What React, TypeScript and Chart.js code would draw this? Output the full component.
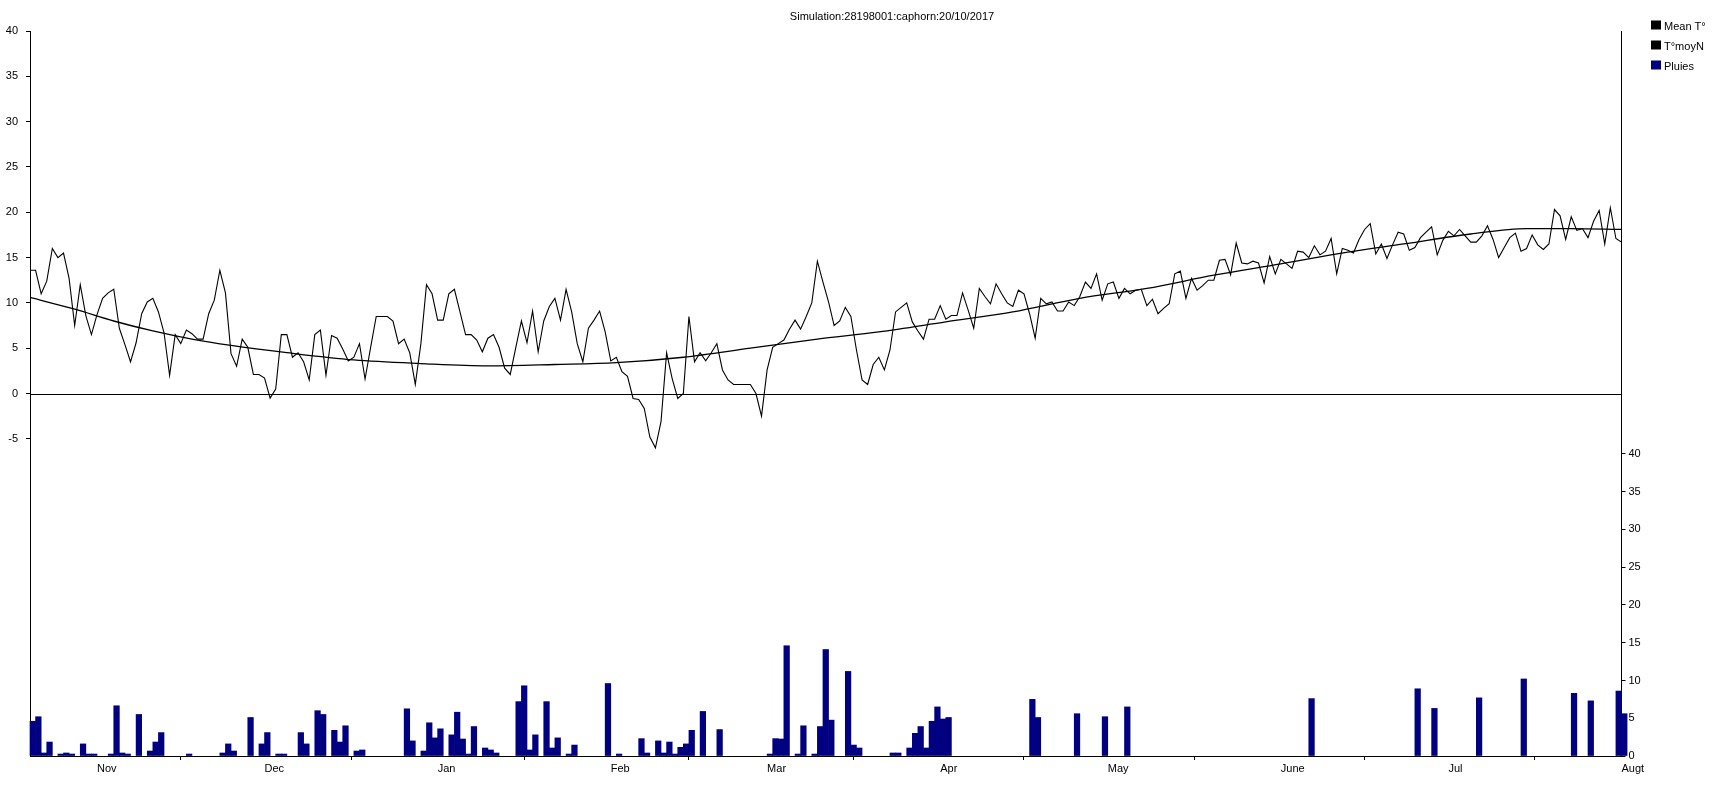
import React, { useEffect, useRef } from 'react';
import { Chart, registerables } from 'chart.js';

Chart.register(...registerables);

// ---------- data ----------
const TITLE = 'Simulation:28198001:caphorn:20/10/2017';

// day index 0 = 20 Oct; month ticks placed at the first day of each month
const monthTickDays = [12, 42, 73, 104, 132, 163, 193, 224, 254, 285];
const monthLabels = ['Nov', 'Dec', 'Jan', 'Feb', 'Mar', 'Apr', 'May', 'June', 'Jul', 'Augt'];

// daily mean temperature (°C), one value per day from day 0 to day 285
const meanTemp = [
  13.6, 13.6, 11, 12.4, 16, 15, 15.5, 12.7, 7.5, 12,
  8.6, 6.5, 8.7, 10.5, 11.1, 11.5, 7.2, 5.4, 3.5, 5.6,
  8.8, 10.1, 10.5, 9, 6.7, 2, 6.5, 5.5, 7, 6.6,
  6, 6, 8.8, 10.3, 13.6, 11.1, 4.4, 3, 6, 5.1,
  2.1, 2.1, 1.7, -0.5, 0.5, 6.5, 6.5, 4, 4.5, 3.5,
  1.5, 6.5, 7, 2, 6.4, 6.1, 4.9, 3.6, 4, 5.5,
  1.6, 5.1, 8.5, 8.5, 8.5, 8, 5.5, 6, 4.5, 1,
  5.5, 12, 11, 8.1, 8.1, 11, 11.5, 9, 6.5, 6.5,
  5.9, 4.6, 6.1, 6.5, 5.1, 2.8, 2.1, 5.1, 8, 5.6,
  9.1, 4.6, 8, 9.6, 10.5, 8.1, 11.5, 9, 5.5, 3.5,
  7.2, 8.1, 9.1, 6.8, 3.6, 4.0, 2.4, 1.9, -0.55, -0.66,
  -1.65, -4.8, -6, -3.1, 4.5, 1.65, -0.55, 0, 8.5, 3.5,
  4.5, 3.6, 4.5, 5.5, 2.6, 1.5, 1, 1, 1, 1,
  0, -2.5, 2.6, 5.1, 5.5, 5.9, 7.1, 8.1, 7.1, 8.5,
  10, 14.6, 12.3, 10.1, 7.5, 8, 9.5, 8.5, 4.8, 1.5,
  1, 3.2, 4, 2.6, 4.8, 9, 9.5, 10, 7.9, 6.9,
  6, 8.2, 8.2, 9.7, 8.2, 8.6, 8.6, 11.1, 9.2, 7.2,
  11.6, 10.7, 9.9, 12.1, 11, 10, 9.6, 11.4, 11, 8.8,
  6.1, 10.5, 9.9, 10.1, 9.1, 9.1, 10.1, 9.7, 10.7, 12.3,
  11.6, 13.2, 10.3, 12.1, 12.3, 10.5, 11.6, 11, 11.4, 11.5,
  9.7, 10.4, 8.8, 9.4, 9.9, 13.2, 13.5, 10.5, 12.7, 11.4,
  11.9, 12.5, 12.5, 14.7, 14.8, 13.1, 16.6, 14.4, 14.3, 14.6,
  14.4, 12.2, 15.1, 13.2, 14.8, 14.3, 13.8, 15.7, 15.6, 15,
  16.3, 15.3, 15.7, 17.1, 13.2, 16, 15.8, 15.5, 17, 18.1,
  18.75, 15.4, 16.5, 14.9, 16.4, 17.8, 17.6, 15.8, 16.1, 17.2,
  17.8, 18.4, 15.3, 16.9, 17.9, 17.4, 18.1, 17.4, 16.7, 16.7,
  17.4, 18.5, 17, 15, 16.1, 17.2, 17.7, 15.7, 16, 17.5,
  16.4, 15.9, 16.5, 20.3, 19.6, 17, 19.5, 18, 18.2, 17.2,
  19, 20.2, 16.5, 20.5, 17.1, 16.7,
];

// normal temperature curve (T°moyN), read at these days
const normalDays = [0, 8, 15, 22, 29, 36, 46, 58, 70, 82, 94, 105, 117, 129, 141, 152, 164, 176, 188, 200, 212, 224, 236, 246, 258, 268, 276, 285];
const normalTemp = [10.6, 9.3, 8.0, 6.9, 6.0, 5.3, 4.5, 3.7, 3.3, 3.05, 3.2, 3.4, 4.0, 5.0, 6.0, 6.8, 7.9, 9.0, 10.5, 11.6, 13.05, 14.3, 15.6, 16.5, 17.6, 18.2, 18.2, 18.1];

// rain (mm) on the days it rained
const rainDays = [
  0, 1, 2, 3, 5, 6, 7, 9, 10, 11,
  14, 15, 16, 17, 19, 21, 22, 23, 28, 34,
  35, 36, 39, 41, 42, 44, 45, 48, 49, 51,
  52, 54, 55, 56, 58, 59, 67, 68, 70, 71,
  72, 73, 75, 76, 77, 78, 79, 81, 82, 83,
  87, 88, 89, 90, 92, 93, 94, 96, 97, 103,
  105, 109, 110, 112, 113, 114, 115, 116, 117, 118,
  120, 123, 132, 133, 134, 135, 137, 138, 140, 141,
  142, 143, 146, 147, 148, 154, 155, 157, 158, 159,
  160, 161, 162, 163, 164, 179, 180, 187, 192, 196,
  229, 248, 251, 259, 267, 276, 279, 284, 285,
];
const rainMm = [
  4.6, 5.2, 0.4, 1.85, 0.26, 0.4, 0.26, 1.6, 0.26, 0.26,
  0.26, 6.65, 0.4, 0.26, 5.5, 0.66, 1.85, 3.1, 0.26, 0.4,
  1.6, 0.66, 5.1, 1.6, 3.1, 0.26, 0.26, 3.1, 1.6, 6.0,
  5.5, 3.4, 1.85, 4.0, 0.66, 0.8, 6.25, 2.0, 0.66, 4.4,
  2.4, 3.6, 2.8, 5.8, 2.25, 0.26, 3.9, 1.06, 0.8, 0.4,
  7.2, 9.3, 0.8, 2.8, 7.2, 1.06, 2.4, 0.26, 1.45, 9.6,
  0.26, 2.3, 0.4, 2.0, 0.4, 1.85, 0.26, 1.15, 1.6, 3.4,
  5.9, 3.5, 0.26, 2.3, 2.25, 14.6, 0.26, 4.0, 0.26, 3.9,
  14.1, 4.75, 11.2, 1.45, 1.06, 0.4, 0.4, 1.06, 3.0, 3.9,
  1.06, 4.6, 6.5, 4.9, 5.1, 7.5, 5.1, 5.6, 5.2, 6.5,
  7.6, 8.9, 6.3, 7.7, 10.2, 8.3, 7.3, 8.6, 5.6,
];

const legendLabels = ['Mean T°', 'T°moyN', 'Pluies'];
const legendColors = ['#000000', '#000000', '#000080'];

const FONT = "'Liberation Sans', Arial, sans-serif";

const overlayPlugin = {
  id: 'overlay',
  beforeDatasetsDraw(chart: any) {
    const { ctx, chartArea, scales } = chart;
    const y = Math.round(scales.y.getPixelForValue(0)) + 0.5;
    ctx.save();
    ctx.strokeStyle = '#000';
    ctx.lineWidth = 1.2;
    ctx.beginPath();
    ctx.moveTo(chartArea.left, y);
    ctx.lineTo(chartArea.right, y);
    ctx.stroke();
    ctx.restore();
  },
  afterDraw(chart: any) {
    const { ctx } = chart;
    ctx.save();
    ctx.fillStyle = '#000';
    ctx.font = `11px ${FONT}`;
    ctx.textAlign = 'center';
    ctx.textBaseline = 'middle';
    ctx.fillText(TITLE, 892, 17);
    ctx.textAlign = 'left';
    legendLabels.forEach((lab, i) => {
      const top = 20.5 + i * 20;
      ctx.fillStyle = legendColors[i];
      ctx.fillRect(1651, top, 10, 9);
      ctx.fillStyle = '#000';
      ctx.fillText(lab, 1664, top + 6);
    });
    ctx.restore();
  },
};

export default function App() {
  const ref = useRef<HTMLCanvasElement>(null);

  useEffect(() => {
    const canvas = ref.current;
    if (!canvas) return;
    Chart.defaults.font.family = FONT;
    Chart.defaults.font.size = 11;
    Chart.defaults.color = '#000';

    const chart = new Chart(canvas, {
      type: 'bar',
      data: {
        datasets: [
          {
            type: 'line',
            label: 'Mean T°',
            data: meanTemp.map((v, i) => ({ x: i, y: v })),
            borderColor: '#000',
            borderWidth: 1.1,
            pointRadius: 0,
            tension: 0,
            yAxisID: 'y',
            order: 1,
          } as any,
          {
            type: 'line',
            label: 'T°moyN',
            data: normalDays.map((d, i) => ({ x: d, y: normalTemp[i] })),
            borderColor: '#000',
            borderWidth: 1.3,
            pointRadius: 0,
            cubicInterpolationMode: 'monotone',
            yAxisID: 'y',
            order: 2,
          } as any,
          {
            type: 'bar',
            label: 'Pluies',
            data: rainDays.map((d, i) => ({ x: d + 0.5, y: rainMm[i] })),
            backgroundColor: '#000080',
            borderWidth: 0,
            barPercentage: 1,
            categoryPercentage: 1,
            yAxisID: 'y1',
            clip: false,
            order: 3,
          } as any,
        ],
      },
      options: {
        responsive: false,
        animation: false,
        devicePixelRatio: 1,
        events: [],
        layout: { padding: { top: 31, left: 0, right: 0, bottom: 0 } },
        plugins: {
          legend: { display: false },
          title: { display: false },
          tooltip: { enabled: false },
        },
        scales: {
          x: {
            type: 'linear',
            min: 0,
            max: 285,
            offset: false,
            grid: { display: true, drawOnChartArea: false, drawTicks: true, tickLength: 4, tickColor: '#000', color: '#000' },
            border: { display: true, color: '#000', width: 1 },
            ticks: {
              autoSkip: false,
              maxRotation: 0,
              minRotation: 0,
              align: 'start',
              padding: 2,
              color: '#000',
              font: { size: 11, family: FONT },
              callback: (_v: any, i: number) => monthLabels[i] ?? '',
            },
            afterBuildTicks: (s: any) => {
              s.ticks = monthTickDays.map((v) => ({ value: v }));
            },
            afterFit: (s: any) => {
              s.height = 30;
            },
          },
          y: {
            type: 'linear',
            position: 'left',
            min: -40,
            max: 40,
            grid: {
              display: true,
              drawOnChartArea: false,
              drawTicks: true,
              tickLength: 4,
              color: '#000',
              tickColor: (c: any) => (c.tick && c.tick.value >= -5 ? '#000' : 'rgba(0,0,0,0)'),
            },
            border: { display: true, color: '#000', width: 1 },
            ticks: {
              stepSize: 5,
              autoSkip: false,
              padding: 8,
              color: '#000',
              font: { size: 11, family: FONT },
              callback: (v: any) => (v >= -5 ? String(v) : ''),
            },
            afterFit: (s: any) => {
              s.width = 30;
            },
          },
          y1: {
            type: 'linear',
            position: 'right',
            min: 0,
            max: 96,
            grid: {
              display: true,
              drawOnChartArea: false,
              drawTicks: true,
              tickLength: 4,
              color: '#000',
              tickColor: (c: any) => (c.tick && c.tick.value <= 40 ? '#000' : 'rgba(0,0,0,0)'),
            },
            border: { display: true, color: '#000', width: 1 },
            ticks: {
              stepSize: 5,
              autoSkip: false,
              padding: 3,
              color: '#000',
              font: { size: 11, family: FONT },
              callback: (v: any) => (v <= 40 ? String(v) : ''),
            },
            afterFit: (s: any) => {
              s.width = 95.5;
            },
          },
        },
      } as any,
      plugins: [overlayPlugin],
    });

    return () => chart.destroy();
  }, []);

  return (
    <div style={{ position: 'absolute', left: 0, top: 0, width: 1717, height: 786, background: '#fff' }}>
      <canvas ref={ref} width={1717} height={786} style={{ display: 'block', width: 1717, height: 786 }} />
    </div>
  );
}
